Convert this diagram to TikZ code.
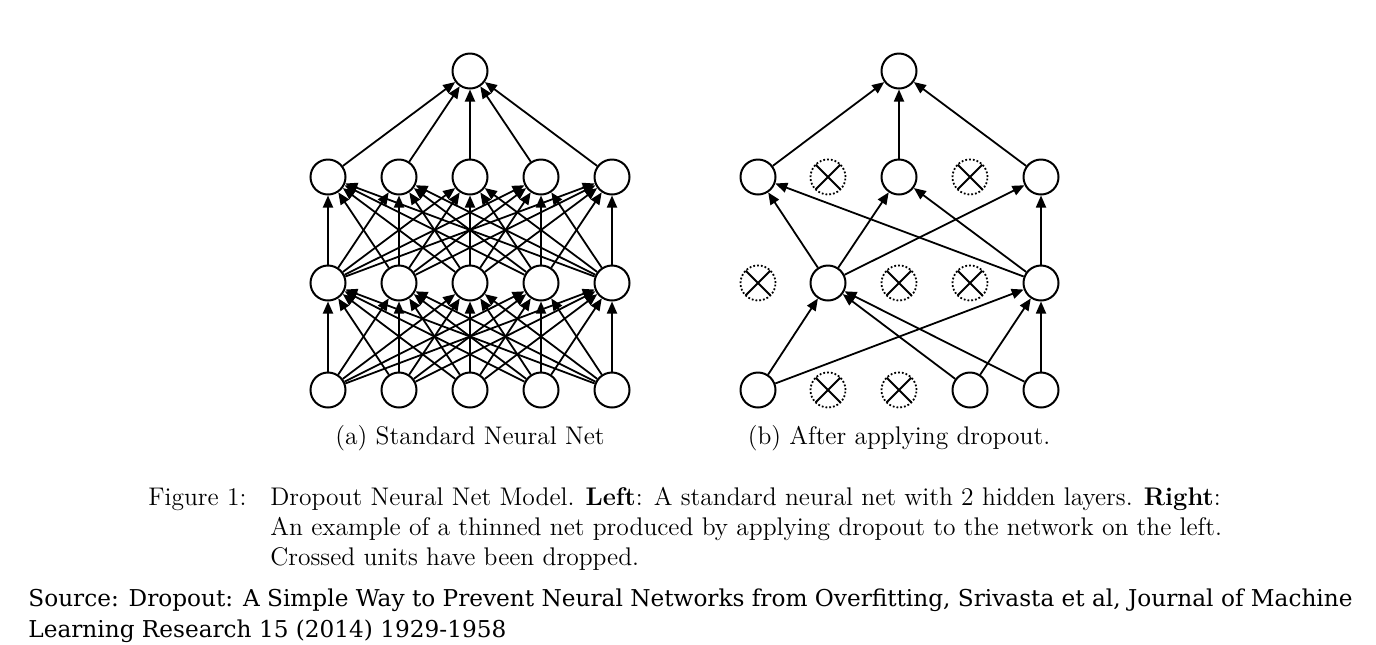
\documentclass[tikz,border=0pt]{standalone}
\usepackage{fontspec}
\newfontfamily\srcfont{DejaVu Serif}
\usetikzlibrary{arrows.meta}
\tikzset{
  unit/.style={circle, draw, line width=1pt, minimum size=17.5pt, inner sep=0pt, fill=white},
  dropped/.style={circle, draw, line width=0.9pt, densely dotted, minimum size=17.5pt, inner sep=0pt,
    path picture={\draw[line width=1pt, solid] (path picture bounding box.north west) -- (path picture bounding box.south east)
      (path picture bounding box.north east) -- (path picture bounding box.south west);}},
  conn/.style={line width=0.9pt, -{Triangle[length=6pt,width=5pt]}},
  subcap/.style={font=\fontsize{12.75pt}{15pt}\selectfont, inner sep=0pt},
  figtext/.style={font=\fontsize{12.75pt}{15pt}\selectfont, inner sep=0pt, anchor=base west},
  srctext/.style={font=\srcfont\fontsize{11.6pt}{16pt}\selectfont, inner sep=0pt, anchor=base west}
}
\begin{document}
\begin{tikzpicture}[x=0.5pt,y=-0.5pt]
\useasboundingbox (0,0) rectangle (1376,644);
% left network
\foreach \i/\x in {1/328,2/399,3/470,4/541,5/612}{
  \node[unit] (la\i) at (\x,390) {};
  \node[unit] (lb\i) at (\x,283) {};
  \node[unit] (lc\i) at (\x,177) {};
}
\node[unit] (lo) at (470,71) {};
\foreach \i in {1,...,5}{
  \foreach \j in {1,...,5}{
    \draw[conn] (la\i) -- (lb\j);
    \draw[conn] (lb\i) -- (lc\j);
  }
  \draw[conn] (lc\i) -- (lo);
}
% right network
\node[unit] (ra1) at (758,390) {};
\node[dropped] (ra2) at (828,390) {};
\node[dropped] (ra3) at (899,390) {};
\node[unit] (ra4) at (970,390) {};
\node[unit] (ra5) at (1041,390) {};
\node[dropped] (rb1) at (758,283) {};
\node[unit] (rb2) at (828,283) {};
\node[dropped] (rb3) at (899,283) {};
\node[dropped] (rb4) at (970,283) {};
\node[unit] (rb5) at (1041,283) {};
\node[unit] (rc1) at (758,177) {};
\node[dropped] (rc2) at (828,177) {};
\node[unit] (rc3) at (899,177) {};
\node[dropped] (rc4) at (970,177) {};
\node[unit] (rc5) at (1041,177) {};
\node[unit] (ro) at (899,71) {};
\foreach \i in {1,4,5}{
  \foreach \j in {2,5}{
    \draw[conn] (ra\i) -- (rb\j);
  }
}
\foreach \i in {2,5}{
  \foreach \j in {1,3,5}{
    \draw[conn] (rb\i) -- (rc\j);
  }
}
\foreach \j in {1,3,5}{
  \draw[conn] (rc\j) -- (ro);
}
% captions
\node[subcap] (capa) at (470,438) {(a) Standard Neural Net};
\node[subcap] (capb) at (899,438) {(b) After applying dropout.};
\node[figtext] (f1) at (148,505) {Figure 1:};
\node[figtext] (f2) at (270,505) {Dropout Neural Net Model. \textbf{Left}: A standard neural net with 2 hidden layers. \textbf{Right}:};
\node[figtext] (f3) at (270,535) {An example of a thinned net produced by applying dropout to the network on the left.};
\node[figtext] (f4) at (270,565) {Crossed units have been dropped.};
\node[srctext] (s1) at (28,606) {Source: Dropout: A Simple Way to Prevent Neural Networks from Overfitting, Srivasta et al, Journal of Machine};
\node[srctext] (s2) at (28,637) {Learning Research 15 (2014) 1929-1958};
\end{tikzpicture}
\end{document}
